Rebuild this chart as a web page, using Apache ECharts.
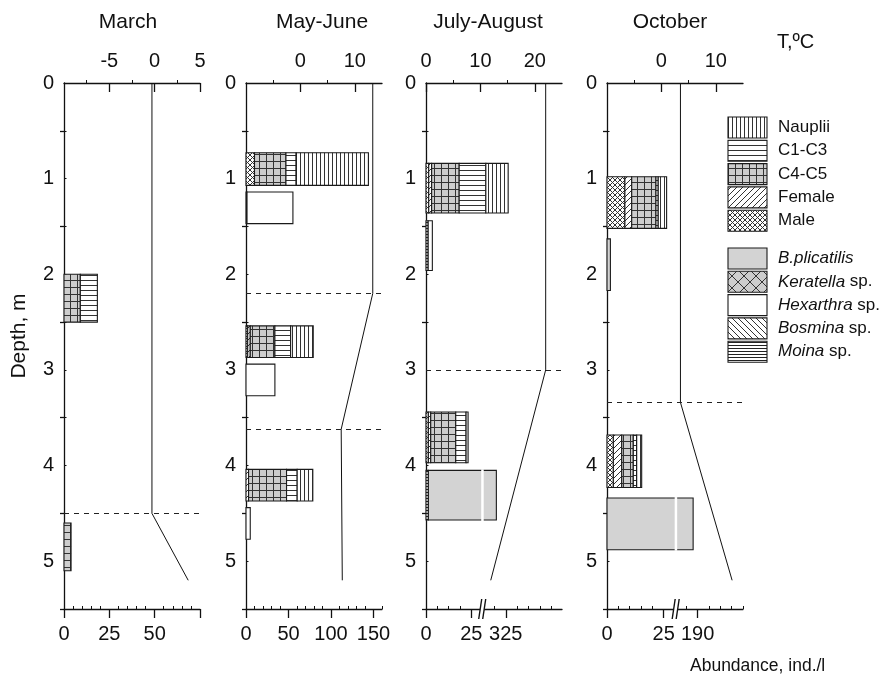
<!DOCTYPE html>
<html><head><meta charset="utf-8">
<script src="https://cdn.jsdelivr.net/npm/echarts@6/dist/echarts.min.js"></script>
<style>html,body{margin:0;padding:0;background:#fff}#c{width:884px;height:682px}</style>
</head><body><div id="c"></div>
<script>
// ================= DATA =================
const panelTitles = ['March', 'May-June', 'July-August', 'October'];
const depthLabels = [0, 1, 2, 3, 4, 5];

// temperature profiles: [T, degC ; depth, m]
const tempMarch   = [[-0.3, 0], [-0.3, 4.5], [3.7, 5.2]];
const tempMayJune = [[13.3, 0], [13.3, 2.2], [7.5, 3.62], [7.7, 5.2]];
const tempJulyAug = [[22.0, 0], [22.0, 3.0], [11.9, 5.2]];
const tempOctober = [[3.5, 0], [3.5, 3.34], [13.0, 5.2]];

// thermocline depths (dashed lines), m
const thermoMarch   = [4.5];
const thermoMayJune = [2.2, 3.62];
const thermoJulyAug = [3.0];
const thermoOctober = [3.34];

// copepods, ind./l : [top depth, bottom depth, Male, Female, C4-C5, C1-C3, Nauplii]
const copepodStages = ['Male', 'Female', 'C4-C5', 'C1-C3', 'Nauplii'];
const copMarch   = [[2.0, 2.5, 0, 0, 9.0, 9.4, 0], [4.6, 5.1, 0, 0, 3.9, 0, 0]];
const copMayJune = [[0.73, 1.07, 10, 0, 37, 12, 85], [2.54, 2.87, 2, 3, 29, 18.5, 26.6], [4.04, 4.37, 0, 3, 44.7, 12.5, 18.4]];
const copJulyAug = [[0.84, 1.36, 1.5, 1.6, 15.2, 14.7, 12.3], [3.44, 3.97, 1.3, 1.3, 13.8, 5.7, 1.1]];
const copOctober = [[0.98, 1.52, 7.9, 3.0, 10.7, 1.0, 3.7], [3.68, 4.23, 2.8, 3.7, 5.1, 1.5, 2.2]];

// rotifers & cladocerans, ind./l : [top, bottom, Moina, Bosmina, Keratella, Hexarthra, B.plicatilis]
const otherTaxa = ['Moina', 'Bosmina', 'Keratella', 'Hexarthra', 'B.plicatilis'];
const rotMarch   = [];
const rotMayJune = [[1.14, 1.47, 1.2, 0, 0, 54, 0], [2.94, 3.27, 0, 0, 0, 34, 0], [4.44, 4.77, 0, 0, 0, 5, 0]];
const rotJulyAug = [[1.44, 1.96, 1.2, 0, 0, 2.3, 0], [4.05, 4.57, 1.3, 0, 0, 0, 318.5]];
const rotOctober = [[1.63, 2.17, 0, 0, 0, 0, 1.5], [4.34, 4.88, 0, 0, 0, 0, 188]];

// abundance axes (bottom)
const abundanceMax = [75, 160, 75, 60];
const abundanceLabelsMarch   = [0, 25, 50];
const abundanceLabelsMayJune = [0, 50, 100, 150];
const abundanceLabelsJulyAug = [0, 25, 325];
const abundanceLabelsOctober = [0, 25, 190];
const abundanceMinorStep = [5, 10, 6.25, 5];
// broken axes: values above 100 are shifted left by `shift`; break drawn at `at`
const breakJulyAug = {at: 31, shift: 281};
const breakOctober = {at: 30.3, shift: 150};

// temperature axes (top)
const tempRanges = [[-10, 5], [-10, 15], [0, 25], [-10, 15]];
const tempLabelsMarch   = [-5, 0, 5];
const tempLabelsMayJune = [0, 10];
const tempLabelsJulyAug = [0, 10, 20];
const tempLabelsOctober = [0, 10];
const tempMinorMarch   = [-7.5, -2.5, 2.5];
const tempMinorMayJune = [-5, 5];
const tempMinorJulyAug = [5, 15];
const tempMinorOctober = [-5, 5];

const legendCopepods = ['Nauplii', 'C1-C3', 'C4-C5', 'Female', 'Male'];
const legendOthers = ['B.plicatilis', 'Keratella sp.', 'Hexarthra sp.', 'Bosmina sp.', 'Moina sp.'];

// ================= STYLE / BUILD =================
const FONT = "'Liberation Sans', Arial, Helvetica, sans-serif";
const INK = '#111';

function tile(w, h, bg, draw, ink) {
  const c = document.createElement('canvas');
  c.width = w; c.height = h;
  const g = c.getContext('2d');
  g.fillStyle = bg; g.fillRect(0, 0, w, h);
  g.strokeStyle = ink || '#222'; g.lineWidth = 1;
  g.beginPath(); draw(g, w, h); g.stroke();
  return {image: c, repeat: 'repeat'};
}
function slash(g, w, h) { g.moveTo(0, h); g.lineTo(w, 0); g.moveTo(-1, 1); g.lineTo(1, -1); g.moveTo(w - 1, h + 1); g.lineTo(w + 1, h - 1); }
function bslash(g, w, h) { g.moveTo(0, 0); g.lineTo(w, h); g.moveTo(w - 1, -1); g.lineTo(w + 1, 1); g.moveTo(-1, h - 1); g.lineTo(1, h + 1); }
const fills = {
  'Nauplii': tile(4, 4, '#fff', (g, w, h) => { g.moveTo(0.5, 0); g.lineTo(0.5, h); }, '#333'),
  'C1-C3': tile(4, 5, '#fff', (g, w, h) => { g.moveTo(0, 0.5); g.lineTo(w, 0.5); }, '#333'),
  'C4-C5': tile(7, 7, '#cdcdcd', (g, w, h) => { g.moveTo(0.5, 0); g.lineTo(0.5, h); g.moveTo(0, 0.5); g.lineTo(w, 0.5); }, '#333'),
  'Female': tile(6, 6, '#fff', slash, '#333'),
  'Male': tile(5, 5, '#fff', (g, w, h) => { slash(g, w, h); bslash(g, w, h); }, '#333'),
  'B.plicatilis': '#d3d3d3',
  'Keratella': tile(12, 12, '#cdcdcd', (g, w, h) => { slash(g, w, h); bslash(g, w, h); }, '#333'),
  'Hexarthra': '#ffffff',
  'Bosmina': tile(6, 6, '#fff', bslash, '#333'),
  'Moina': tile(4, 3, '#fff', (g, w, h) => { g.moveTo(0, 0.5); g.lineTo(w, 0.5); }, '#222')
};
const fillKeys = Object.keys(fills);

function disp(v, brk) { return (brk && v > 100) ? v - brk.shift : v; }
function labelOf(v, brk) { return (brk && v > brk.at) ? String(Math.round(v + brk.shift)) : String(v); }

function buildBars(cop, rot, brk) {
  const items = [];
  cop.forEach(r => {
    let acc = 0;
    copepodStages.forEach((s, k) => {
      const v = r[2 + k]; if (!v) return;
      items.push([disp(acc, brk), disp(acc + v, brk), r[0], r[1], fillKeys.indexOf(s), 0]);
      acc += v;
    });
  });
  rot.forEach(r => {
    let acc = 0;
    otherTaxa.forEach((s, k) => {
      const v = r[2 + k]; if (!v) return;
      const gap = (brk && acc + v > 100) ? brk.at : 0;
      items.push([disp(acc, brk), disp(acc + v, brk), r[0], r[1], fillKeys.indexOf(s), gap]);
      acc += v;
    });
  });
  return items;
}

function minorTicks(max, step, majors, brk) {
  const out = [];
  if (!brk) {
    for (let v = step; v <= max + 1e-6; v += step) if (!majors.some(m => Math.abs(m - v) < 0.5)) out.push(v);
    return out;
  }
  for (let v = step; v < brk.at - 1; v += step) if (!majors.some(m => Math.abs(m - v) < 0.5)) out.push(v);
  const anchor = majors[majors.length - 1];
  for (let v = anchor - step; v > brk.at + 2; v -= step) out.push(v);
  for (let v = anchor + step; v <= max + 1e-6; v += step) out.push(v);
  return out;
}

const panels = [
  {cop: copMarch, rot: rotMarch, temp: tempMarch, thermo: thermoMarch, abLabels: abundanceLabelsMarch, extraMajor: [75], brk: null, tLabels: tempLabelsMarch, tMinor: tempMinorMarch},
  {cop: copMayJune, rot: rotMayJune, temp: tempMayJune, thermo: thermoMayJune, abLabels: abundanceLabelsMayJune, extraMajor: [], brk: null, tLabels: tempLabelsMayJune, tMinor: tempMinorMayJune},
  {cop: copJulyAug, rot: rotJulyAug, temp: tempJulyAug, thermo: thermoJulyAug, abLabels: abundanceLabelsJulyAug, extraMajor: [], brk: breakJulyAug, tLabels: tempLabelsJulyAug, tMinor: tempMinorJulyAug},
  {cop: copOctober, rot: rotOctober, temp: tempOctober, thermo: thermoOctober, abLabels: abundanceLabelsOctober, extraMajor: [], brk: breakOctober, tLabels: tempLabelsOctober, tMinor: tempMinorOctober}
];

const gridLeft = [64, 246, 426, 607];
const GRID_TOP = 83, GRID_H = 526, GRID_W = 136;
const axisLineStyle = {color: INK, width: 1.3};
const labelStyle = {fontSize: 20, color: INK, fontFamily: FONT};
const depthHalf = [0.5, 1.5, 2.5, 3.5, 4.5, 5.5];
const depthAll = [0.5, 1, 1.5, 2, 2.5, 3, 3.5, 4, 4.5, 5];

const grid = [], xAxis = [], yAxis = [], series = [];

function renderBar(params, api) {
  const a = api.coord([api.value(0), api.value(2)]);
  const b = api.coord([api.value(1), api.value(3)]);
  const f = fills[fillKeys[api.value(4)]];
  const children = [{
    type: 'rect',
    shape: {x: a[0], y: a[1], width: b[0] - a[0], height: b[1] - a[1]},
    style: {fill: f, stroke: '#1a1a1a', lineWidth: 1.1}
  }];
  const gap = api.value(5);
  if (gap > 0) {
    const g = api.coord([gap, api.value(2)]);
    children.push({type: 'rect', shape: {x: g[0] - 1, y: a[1] - 1, width: 2.5, height: b[1] - a[1] + 2}, style: {fill: '#fff'}});
  }
  return {type: 'group', children};
}
function renderBreak(params, api) {
  const p = api.coord([api.value(0), api.value(1)]);
  const x = p[0], y = p[1];
  return {type: 'group', children: [
    {type: 'polygon', shape: {points: [[x - 3.5, y + 10], [x + 0.5, y + 10], [x + 3.5, y - 10], [x - 0.5, y - 10]]}, style: {fill: '#fff'}},
    {type: 'line', shape: {x1: x - 3.5, y1: y + 10, x2: x - 0.5, y2: y - 10}, style: {stroke: INK, lineWidth: 1.4}},
    {type: 'line', shape: {x1: x + 0.5, y1: y + 10, x2: x + 3.5, y2: y - 10}, style: {stroke: INK, lineWidth: 1.4}}
  ]};
}

panels.forEach((p, i) => {
  grid.push({left: gridLeft[i], top: GRID_TOP, width: GRID_W, height: GRID_H});
  const labVals = p.abLabels.map(v => disp(v, p.brk));
  const majors = labVals.concat(p.extraMajor);
  const minors = minorTicks(abundanceMax[i], abundanceMinorStep[i], majors, p.brk);
  // bottom abundance axis
  xAxis.push({gridIndex: i, type: 'value', position: 'bottom', min: 0, max: abundanceMax[i],
    axisLine: {show: true, onZero: false, lineStyle: axisLineStyle},
    axisTick: {show: true, customValues: majors, length: 9, inside: false, lineStyle: axisLineStyle},
    axisLabel: Object.assign({show: true, customValues: labVals, margin: 15, formatter: v => labelOf(v, p.brk)}, labelStyle),
    splitLine: {show: false}});
  xAxis.push({gridIndex: i, type: 'value', position: 'bottom', min: 0, max: abundanceMax[i],
    axisLine: {show: false, onZero: false},
    axisTick: {show: true, customValues: minors, length: 3, inside: true, lineStyle: {color: INK, width: 1}},
    axisLabel: {show: false}, splitLine: {show: false}});
  // top temperature axis
  xAxis.push({gridIndex: i, type: 'value', position: 'top', min: tempRanges[i][0], max: tempRanges[i][1],
    axisLine: {show: true, onZero: false, lineStyle: axisLineStyle},
    axisTick: {show: true, customValues: p.tLabels, length: 9, inside: true, lineStyle: axisLineStyle},
    axisLabel: Object.assign({show: true, customValues: p.tLabels, margin: 12}, labelStyle),
    splitLine: {show: false}});
  xAxis.push({gridIndex: i, type: 'value', position: 'top', min: tempRanges[i][0], max: tempRanges[i][1],
    axisLine: {show: false, onZero: false},
    axisTick: {show: true, customValues: p.tMinor, length: 3, inside: false, lineStyle: {color: INK, width: 1}},
    axisLabel: {show: false}, splitLine: {show: false}});
  // depth axes
  yAxis.push({gridIndex: i, type: 'value', position: 'left', inverse: true, min: 0, max: 5.5,
    axisLine: {show: true, onZero: false, lineStyle: axisLineStyle},
    axisTick: {show: true, customValues: depthHalf, length: 4, inside: false, lineStyle: axisLineStyle},
    axisLabel: Object.assign({show: true, customValues: depthLabels, margin: 10}, labelStyle),
    splitLine: {show: false}});
  yAxis.push({gridIndex: i, type: 'value', position: 'left', inverse: true, min: 0, max: 5.5,
    axisLine: {show: false, onZero: false},
    axisTick: {show: true, customValues: depthAll, length: 2.5, inside: true, lineStyle: {color: INK, width: 1}},
    axisLabel: {show: false}, splitLine: {show: false}});

  series.push({type: 'custom', xAxisIndex: 4 * i, yAxisIndex: 2 * i, renderItem: renderBar,
    encode: {x: [0, 1], y: [2, 3]}, data: buildBars(p.cop, p.rot, p.brk), z: 3, silent: true});
  series.push({type: 'line', xAxisIndex: 4 * i + 2, yAxisIndex: 2 * i, data: p.temp,
    symbol: 'none', lineStyle: {color: INK, width: 1}, z: 4, silent: true,
    markLine: {silent: true, symbol: ['none', 'none'], label: {show: false},
      lineStyle: {type: [5, 5], color: '#222', width: 1}, data: p.thermo.map(v => ({yAxis: v}))}});
  if (p.brk) {
    series.push({type: 'custom', xAxisIndex: 4 * i, yAxisIndex: 2 * i, renderItem: renderBreak,
      data: [[p.brk.at, 5.5]], z: 10, silent: true, clip: false});
  }
});

// ================= TEXT / LEGEND =================
const titleX = [128, 322, 488, 670];
const graphic = [];
panelTitles.forEach((t, i) => graphic.push({type: 'text', x: titleX[i], y: 22,
  style: {text: t, font: '21px ' + FONT, fill: INK, align: 'center', verticalAlign: 'middle', textAlign: 'center', textVerticalAlign: 'middle'}}));
graphic.push({type: 'text', x: 19, y: 336, rotation: Math.PI / 2,
  style: {text: 'Depth, m', font: '21px ' + FONT, fill: INK, align: 'center', verticalAlign: 'middle', textAlign: 'center', textVerticalAlign: 'middle'}});
graphic.push({type: 'text', x: 777, y: 42,
  style: {text: 'T,ºC', font: '20px ' + FONT, fill: INK, align: 'left', verticalAlign: 'middle', textAlign: 'left', textVerticalAlign: 'middle'}});
graphic.push({type: 'text', x: 690, y: 666,
  style: {text: 'Abundance, ind./l', font: '17.5px ' + FONT, fill: INK, align: 'left', verticalAlign: 'middle', textAlign: 'left', textVerticalAlign: 'middle'}});

function legendRow(label, key, y, richText) {
  graphic.push({type: 'rect', shape: {x: 728, y: y, width: 39, height: 21},
    style: {fill: fills[key], stroke: '#1a1a1a', lineWidth: 1.1}});
  graphic.push({type: 'text', x: 778, y: y + 10.5,
    style: {text: richText, fontSize: 17, fontFamily: FONT, fill: INK, align: 'left', verticalAlign: 'middle', textAlign: 'left', textVerticalAlign: 'middle',
      rich: {i: {fontStyle: 'italic', fontSize: 17, fontFamily: FONT, fill: INK}}}});
}
legendCopepods.forEach((n, k) => legendRow(n, n, 117 + k * 23.3, n));
legendOthers.forEach((n, k) => {
  const parts = n.split(' ');
  const key = parts[0];
  const rt = parts.length > 1 ? '{i|' + parts[0] + '} ' + parts.slice(1).join(' ') : '{i|' + n + '}';
  legendRow(n, key, 248 + k * 23.3, rt);
});

const chart = echarts.init(document.getElementById('c'), null, {renderer: 'canvas'});
chart.setOption({
  animation: false,
  backgroundColor: '#fff',
  textStyle: {fontFamily: FONT},
  grid, xAxis, yAxis, series, graphic
});
</script>
</body></html>
